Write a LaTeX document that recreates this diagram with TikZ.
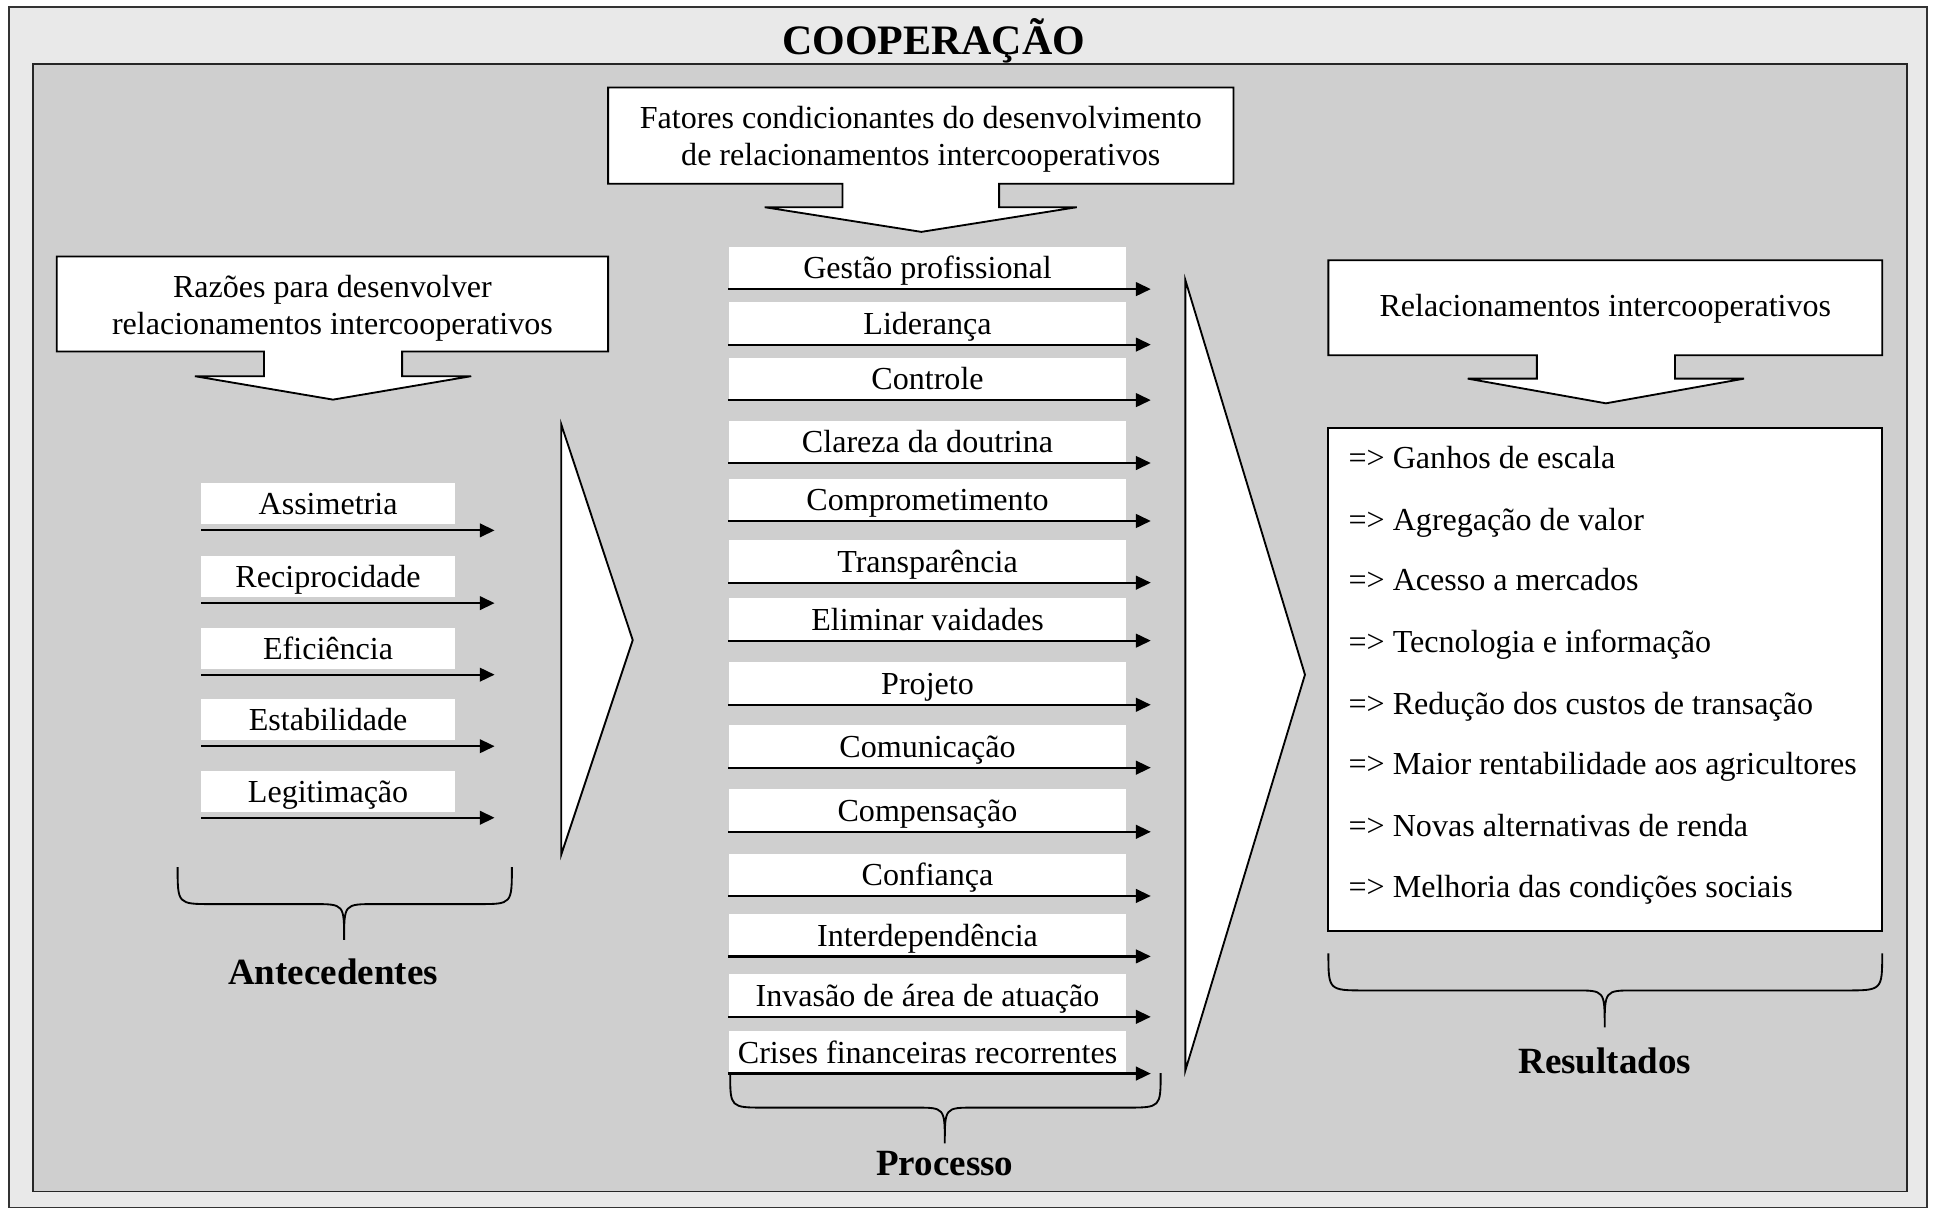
\documentclass[tikz,border=0pt]{standalone}
\usepackage{fontspec}
\setmainfont{Liberation Serif}
\usetikzlibrary{arrows.meta}
\definecolor{outerbg}{HTML}{E9E9E9}
\definecolor{innerbg}{HTML}{CFCFCF}
\begin{document}
\begin{tikzpicture}[x=0.5pt,y=-0.5pt,
  font=\fontsize{13}{15}\selectfont,
  box/.style={draw=black, line width=0.75pt, fill=white},
  txt/.style={align=center, inner sep=0pt},
  litem/.style={fill=white, inner sep=0pt, minimum width=103pt, minimum height=16.5pt, text height=10.5pt, text depth=1.5pt},
  mitem/.style={fill=white, inner sep=0pt, minimum width=161pt, minimum height=17pt, text height=10.5pt, text depth=1.5pt},
  arr/.style={-{Triangle[length=6pt,width=5.5pt]}, line width=0.9pt},
  brace/.style={line width=0.75pt},
  lbl/.style={font=\fontsize{15}{18}\selectfont\bfseries, inner sep=0pt},
  res/.style={anchor=west, inner sep=0pt, text height=10.5pt, text depth=1.5pt}]
\useasboundingbox (0,0) rectangle (1568,983);
% frames
\draw[fill=outerbg, draw=black!80, line width=0.75pt] (7,6) rectangle (1562,979);
\draw[fill=innerbg, draw=black!85, line width=0.75pt] (27,52) rectangle (1546,966);
\node[font=\fontsize{17}{20}\selectfont\bfseries, inner sep=0pt] (title) at (757,33) {COOPERAÇÃO};

% Fatores callout
\draw[box] (493,71) -- (1000,71) -- (1000,149) -- (810,149) -- (810,168) -- (873,168)
  -- (747,188) -- (620,168) -- (683,168) -- (683,149) -- (493,149) -- cycle;
\node[txt] (fat) at (746.5,113) {Fatores condicionantes do desenvolvimento\\de relacionamentos intercooperativos};

% Razoes callout
\draw[box] (46,208) -- (493,208) -- (493,285) -- (326,285) -- (326,305) -- (382,305)
  -- (270,324) -- (158,305) -- (214,305) -- (214,285) -- (46,285) -- cycle;
\node[txt] (raz) at (269.5,250) {Razões para desenvolver\\relacionamentos intercooperativos};

% Relacionamentos callout
\draw[box] (1077,211) -- (1526,211) -- (1526,288) -- (1358,288) -- (1358,307) -- (1414,307)
  -- (1302,327) -- (1190,307) -- (1246,307) -- (1246,288) -- (1077,288) -- cycle;
\node[txt] (rel) at (1301.5,250) {Relacionamentos intercooperativos};

% left items
\foreach \t/\y [count=\i] in {Assimetria/430, Reciprocidade/489, Eficiência/547, Estabilidade/605, Legitimação/663}{
  \coordinate (La\i) at (163,\y);
  \coordinate (Lb\i) at (401,\y);
  \node[litem] (L\i) at ([shift={(103,-21.5)}]La\i) {\t};
  \draw[arr] (La\i) -- (Lb\i);
}
% left triangle
\draw[box] (455,344) -- (513,519) -- (455,693) -- cycle;

% middle items
\coordinate (mend) at (933,0);
\foreach \t/\y [count=\i] in {Gestão profissional/234, Liderança/279, Controle/324, Clareza da doutrina/375,
  Comprometimento/422, Transparência/472, Eliminar vaidades/519, Projeto/571, Comunicação/622,
  Compensação/674, Confiança/726, Interdependência/775, Invasão de área de atuação/824,
  Crises financeiras recorrentes/870}{
  \node[mitem] (M\i) at (752,\y-17) {\t};
  \draw[arr] (M\i.south west) -- (M\i.south west -| mend);
}
% middle triangle
\draw[box] (961,227) -- (1058,547) -- (961,868) -- cycle;

% results box
\node[box, minimum width=224.5pt, minimum height=204pt, inner sep=0pt] (resbox) at (1301.5,551) {};
\foreach \t/\y [count=\i] in {Ganhos de escala/371, Agregação de valor/421, Acesso a mercados/470,
  Tecnologia e informação/520, Redução dos custos de transação/570, Maior rentabilidade aos agricultores/619,
  Novas alternativas de renda/669, Melhoria das condições sociais/719}{
  \node[res] (R\i) at (1093,\y) {=> \t};
}

% braces
\draw[brace] (144,703) .. controls (144,733) .. (172,733) -- (254,733)
  .. controls (279,733) .. (279,762) .. controls (279,733) .. (304,733) -- (388,733)
  .. controls (415,733) .. (415,703);
\node[lbl] (ante) at (270,788) {Antecedentes};

\draw[brace] (592,870) .. controls (592,898) .. (620,898) -- (742,898)
  .. controls (766,898) .. (766,927) .. controls (766,898) .. (790,898) -- (913,898)
  .. controls (941,898) .. (941,870);
\node[lbl] (proc) at (766,943) {Processo};

\draw[brace] (1077,773) .. controls (1077,803) .. (1107,803) -- (1277,803)
  .. controls (1301,803) .. (1301,833) .. controls (1301,803) .. (1325,803) -- (1496,803)
  .. controls (1526,803) .. (1526,773);
\node[lbl] (resl) at (1301,860) {Resultados};
\end{tikzpicture}
\end{document}
